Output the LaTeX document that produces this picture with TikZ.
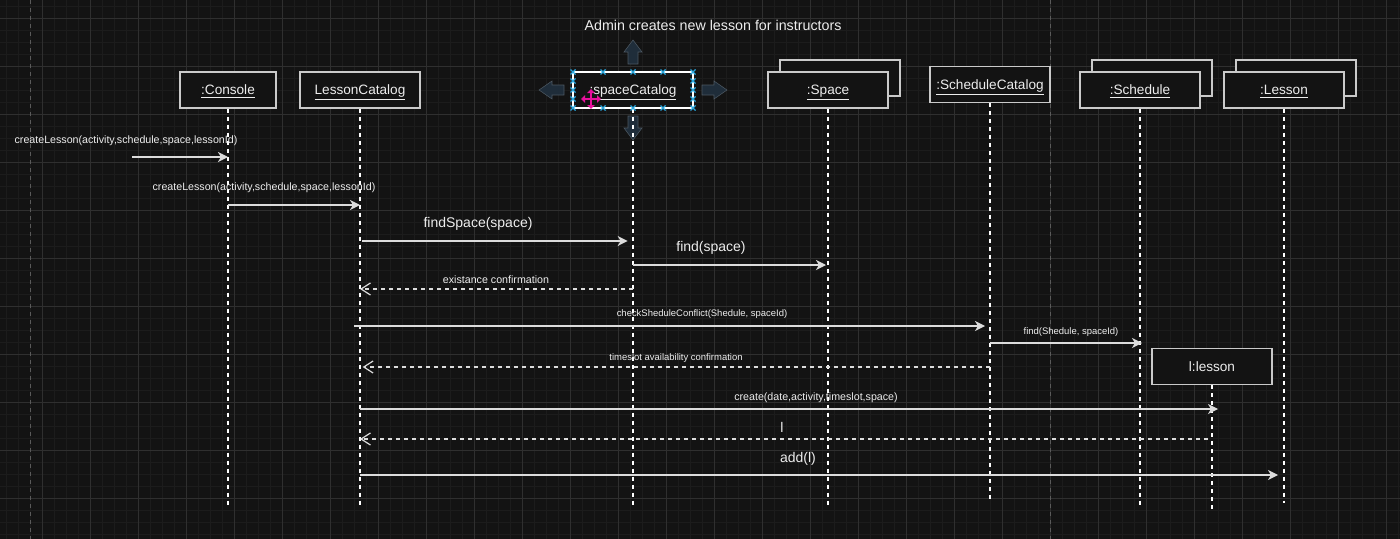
\documentclass[tikz,border=0pt]{standalone}
\usepackage{fontspec}
\setmainfont{Liberation Sans}
\usepackage{xcolor}
\usepackage{tikz}
\usetikzlibrary{arrows.meta, shadows, positioning}

\definecolor{canvas}{HTML}{131313}
\definecolor{gridminor}{HTML}{1C1C1C}
\definecolor{gridmajor}{HTML}{2F2F2F}
\definecolor{pageline}{HTML}{5A5A5A}
\definecolor{boxline}{HTML}{CACACA}
\definecolor{inktext}{HTML}{EDEDED}
\definecolor{msgline}{HTML}{DCDCDC}
\definecolor{hoverblue}{HTML}{1F2D3A}
\definecolor{handle}{HTML}{29A8E0}
\definecolor{mover}{HTML}{E8109C}

\begin{document}
\begin{tikzpicture}[x=0.75pt, y=-0.75pt, >={Stealth[length=7.5pt, width=7.5pt, inset=2.2pt]},
    object/.style={draw=boxline, fill=canvas, line width=1.1pt, minimum width=90pt, minimum height=27pt, inner sep=0pt, text height=7.6pt, text depth=0.2pt, text=inktext, font=\fontsize{10.2}{12}\selectfont},
    multi/.style={object, copy shadow={shadow xshift=9pt, shadow yshift=9pt}},
    lifeline/.style={draw=white, line width=0.9pt, dash pattern=on 3pt off 3pt},
    msg/.style={draw=msgline, line width=1.1pt, ->},
    reply/.style={draw=msgline, line width=0.9pt, dash pattern=on 3pt off 3pt, -{Straight Barb[length=7pt, width=9pt]}},
    biglabel/.style={text=inktext, font=\fontsize{10.5}{12}\selectfont, inner sep=0pt},
    midlabel/.style={text=inktext, font=\fontsize{8}{10}\selectfont, inner sep=0pt},
    smalllabel/.style={text=inktext, font=\fontsize{7.1}{9}\selectfont, inner sep=0pt},
    hover/.style={fill=hoverblue, draw=hoverblue!80!white, line width=0.4pt}]

    \useasboundingbox (0,0) rectangle (1400,539);

    % Canvas and grid
    \fill[canvas] (0,0) rectangle (1400,539);
    \foreach \gx in {6,18,...,1398} \draw[gridminor, line width=0.75pt] (\gx,0) -- (\gx,539);
    \foreach \gy in {6,18,...,534} \draw[gridminor, line width=0.75pt] (0,\gy) -- (1400,\gy);
    \foreach \gx in {42,90,...,1386} \draw[gridmajor, line width=0.75pt] (\gx,0) -- (\gx,539);
    \foreach \gy in {18,66,...,498} \draw[gridmajor, line width=0.75pt] (0,\gy) -- (1400,\gy);
    \draw[pageline, line width=0.75pt, dash pattern=on 3pt off 3pt] (30,0) -- (30,539);
    \draw[pageline, line width=0.75pt, dash pattern=on 3pt off 3pt] (1050,0) -- (1050,539);

    % Title
    \node (title) at (713,25) [biglabel, font=\fontsize{10.7}{12}\selectfont] {Admin creates new lesson for instructors};

    % Hover arrows round the selected object
    \fill[hover] (628,64) -- (628,52) -- (624,52) -- (633,40) -- (642,52) -- (638,52) -- (638,64) -- cycle;
    \fill[hover] (564,85) -- (552,85) -- (552,81) -- (539,90) -- (552,99) -- (552,95) -- (564,95) -- cycle;
    \fill[hover] (702,85) -- (714,85) -- (714,81) -- (727,90) -- (714,99) -- (714,95) -- (702,95) -- cycle;
    \fill[hover] (628,116) -- (628,128) -- (624,128) -- (633,140) -- (642,128) -- (638,128) -- (638,116) -- cycle;

    % Objects
    \node (console) at (228,90) [object, minimum width=72pt] {\underline{:Console}};
    \node (lessonCat) at (360,90) [object] {\underline{LessonCatalog}};
    \node (spaceCat) at (633,90) [object, draw=white] {\underline{:spaceCatalog}};
    \node (space) at (828,90) [multi] {\underline{:Space}};
    \node (schedCat) at (990,84.5) [object] {\underline{:ScheduleCatalog}};
    \node (schedule) at (1140,90) [multi] {\underline{:Schedule}};
    \node (lesson) at (1284,90) [multi] {\underline{:Lesson}};
    \node (newLesson) at (1212,366.5) [object] {l:lesson};

    % Lifelines
    \draw[lifeline] (console.south) -- (console |- 0,505);
    \draw[lifeline] (lessonCat.south) -- (lessonCat |- 0,505);
    \draw[lifeline] (spaceCat.south) -- (spaceCat |- 0,505);
    \draw[lifeline] (space.south) -- (space |- 0,505);
    \draw[lifeline] (schedCat.south) -- (schedCat |- 0,500);
    \draw[lifeline] (schedule.south) -- (schedule |- 0,507);
    \draw[lifeline] (newLesson.south) -- (newLesson |- 0,510);
    \draw[lifeline] (lesson.south) -- (lesson |- 0,503);

    % Messages
    \coordinate (entry) at (132,157);
    \draw[msg] (entry) -- (console |- entry);
    \draw[msg] (console |- 0,205) -- (lessonCat |- 0,205);
    \draw[msg, shorten <=1.5pt, shorten >=4pt] (lessonCat |- 0,241) -- (spaceCat |- 0,241);
    \draw[msg, shorten >=1.5pt] (spaceCat |- 0,265) -- (space |- 0,265);
    \draw[reply] (spaceCat |- 0,289) -- (lessonCat |- 0,289);
    \draw[msg, shorten <=-4.5pt, shorten >=3.75pt] (lessonCat |- 0,326) -- (schedCat |- 0,326);
    \draw[msg, shorten >=-1.5pt] (schedCat |- 0,343) -- (schedule |- 0,343);
    \draw[reply, shorten >=2pt] (schedCat |- 0,367) -- (lessonCat |- 0,367);
    \draw[msg, shorten >=-4.5pt] (lessonCat |- 0,409) -- (newLesson |- 0,409);
    \draw[reply, shorten <=3pt] (newLesson |- 0,439) -- (lessonCat |- 0,439);
    \draw[msg, shorten >=4.5pt] (lessonCat |- 0,475) -- (lesson |- 0,475);

    % Message labels
    \node (m1) at (126,140.5) [midlabel] {createLesson(activity,schedule,space,lessonId)};
    \node (m2) at (264,187.5) [midlabel] {createLesson(activity,schedule,space,lessonId)};
    \node (m3) at (478,223.5) [biglabel] {findSpace(space)};
    \node (m4) at (711,247.5) [biglabel] {find(space)};
    \node (m5) at (496,279.5) [midlabel] {existance confirmation};
    \node (m6) at (702,314) [smalllabel] {checkSheduleConflict(Shedule, spaceId)};
    \node (m7) at (1071,332) [smalllabel] {find(Shedule, spaceId)};
    \node (m8) at (676,358) [smalllabel] {timeslot availability confirmation};
    \node (m9) at (816,397.5) [midlabel] {create(date,activity,timeslot,space)};
    \node (m10) at (782,427) [biglabel] {l};
    \node (m11) at (798,458.5) [biglabel] {add(l)};

    % Selection handles and move cursor
    \foreach \hx in {573,603,633,663,693} {
        \draw[handle, line width=0.9pt] (\hx-2.5,69.5) -- (\hx+2.5,74.5) (\hx-2.5,74.5) -- (\hx+2.5,69.5);
        \draw[handle, line width=0.9pt] (\hx-2.5,105.5) -- (\hx+2.5,110.5) (\hx-2.5,110.5) -- (\hx+2.5,105.5);
    }
    \foreach \hy in {81,90,99} {
        \draw[handle, line width=0.9pt] (570.5,\hy-2.5) -- (575.5,\hy+2.5) (570.5,\hy+2.5) -- (575.5,\hy-2.5);
        \draw[handle, line width=0.9pt] (690.5,\hy-2.5) -- (695.5,\hy+2.5) (690.5,\hy+2.5) -- (695.5,\hy-2.5);
    }
    \draw[mover, line width=1.5pt, {Triangle[length=3pt, width=5.5pt]}-{Triangle[length=3pt, width=5.5pt]}] (581,99) -- (601,99);
    \draw[mover, line width=1.5pt, {Triangle[length=3pt, width=5.5pt]}-{Triangle[length=3pt, width=5.5pt]}] (591,89) -- (591,109);
\end{tikzpicture}
\end{document}
